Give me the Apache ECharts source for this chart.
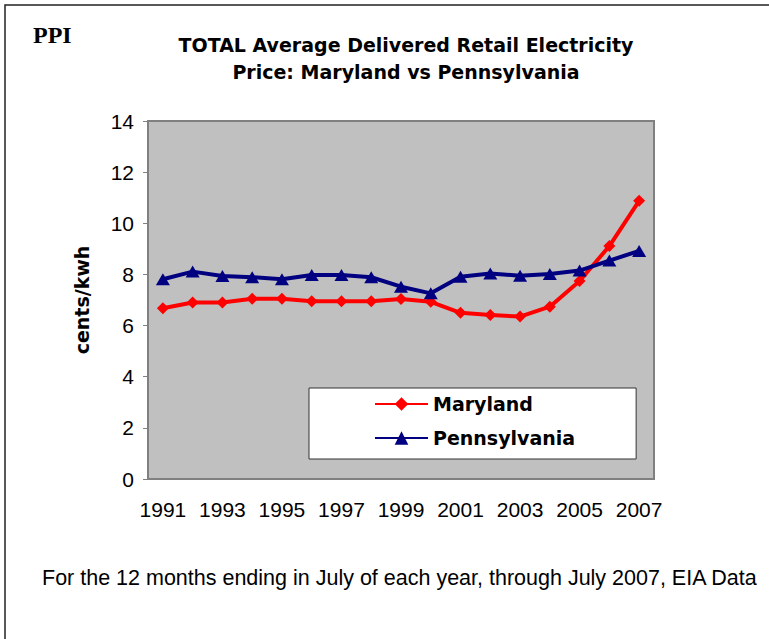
<!DOCTYPE html>
<html>
<head>
<meta charset="utf-8">
<script src="https://cdn.jsdelivr.net/npm/echarts@6/dist/echarts.min.js"></script>
<style>
html,body{margin:0;padding:0;background:#fff;}
#chart{width:769px;height:639px;}
</style>
</head>
<body>
<div id="chart"></div>
<script>
var years = ['1991','1992','1993','1994','1995','1996','1997','1998','1999','2000','2001','2002','2003','2004','2005','2006','2007'];
var maryland = [6.68,6.90,6.90,7.05,7.05,6.95,6.95,6.95,7.04,6.93,6.50,6.41,6.35,6.74,7.74,9.11,10.88];
var pennsylvania = [7.81,8.11,7.94,7.89,7.81,7.98,7.98,7.89,7.52,7.26,7.91,8.04,7.95,8.02,8.15,8.54,8.92];
var titleLines = ['TOTAL Average Delivered Retail Electricity','Price: Maryland vs Pennsylvania'];
var footer = 'For the 12 months ending in July of each year, through July 2007, EIA Data';
var yName = 'cents/kwh';
var tag = 'PPI';

var chart = echarts.init(document.getElementById('chart'), null, {renderer:'svg'});
chart.setOption({
  animation:false,
  graphic:[
    {type:'rect', shape:{x:5,y:5,width:820,height:700}, style:{fill:'none',stroke:'#222',lineWidth:1.5}, silent:true},
    {type:'text', x:33, y:35, style:{text:tag, font:'bold 24px "Liberation Serif"', fill:'#000', verticalAlign:'middle'}},
    {type:'text', x:406, y:45, style:{text:titleLines[0], font:'bold 19px "DejaVu Sans"', fill:'#000', align:'center', verticalAlign:'middle'}},
    {type:'text', x:406, y:72, style:{text:titleLines[1], font:'bold 19px "DejaVu Sans"', fill:'#000', align:'center', verticalAlign:'middle'}},
    {type:'text', x:42, y:578, style:{text:footer, font:'21.5px "Liberation Sans"', fill:'#000', verticalAlign:'middle'}}
  ],
  grid:{left:148, right:115, top:121, bottom:160, show:true, backgroundColor:'#C0C0C0', borderColor:'#808080', borderWidth:2},
  legend:{
    left:309, top:388, orient:'vertical',
    backgroundColor:'#fff', borderColor:'#333', borderWidth:1,
    padding:[5,61,10,65], itemGap:12, itemWidth:53, itemHeight:17,
    textStyle:{fontFamily:'DejaVu Sans', fontWeight:'bold', fontSize:19, color:'#000', lineHeight:22},
    data:['Maryland','Pennsylvania']
  },
  xAxis:{
    type:'category', data:years, boundaryGap:true,
    axisLine:{show:false}, axisTick:{show:false},
    axisLabel:{interval:1, color:'#000', fontFamily:'Liberation Sans', fontSize:21, margin:20}
  },
  yAxis:{
    type:'value', min:0, max:14, interval:2,
    name:yName, nameLocation:'middle', nameGap:57,
    nameTextStyle:{fontFamily:'DejaVu Sans', fontWeight:'bold', fontSize:19, color:'#000'},
    axisLine:{show:false}, splitLine:{show:false},
    axisTick:{show:true, length:5, lineStyle:{color:'#808080', width:1}},
    axisLabel:{color:'#000', fontFamily:'Liberation Sans', fontSize:21, margin:14}
  },
  series:[
    {name:'Maryland', type:'line', data:maryland, symbol:'diamond', symbolSize:12,
     lineStyle:{color:'#FF0000', width:4}, itemStyle:{color:'#FF0000'}},
    {name:'Pennsylvania', type:'line', data:pennsylvania, symbol:'triangle', symbolSize:[14,12],
     lineStyle:{color:'#000080', width:4}, itemStyle:{color:'#000080'}}
  ]
});
</script>
</body>
</html>
